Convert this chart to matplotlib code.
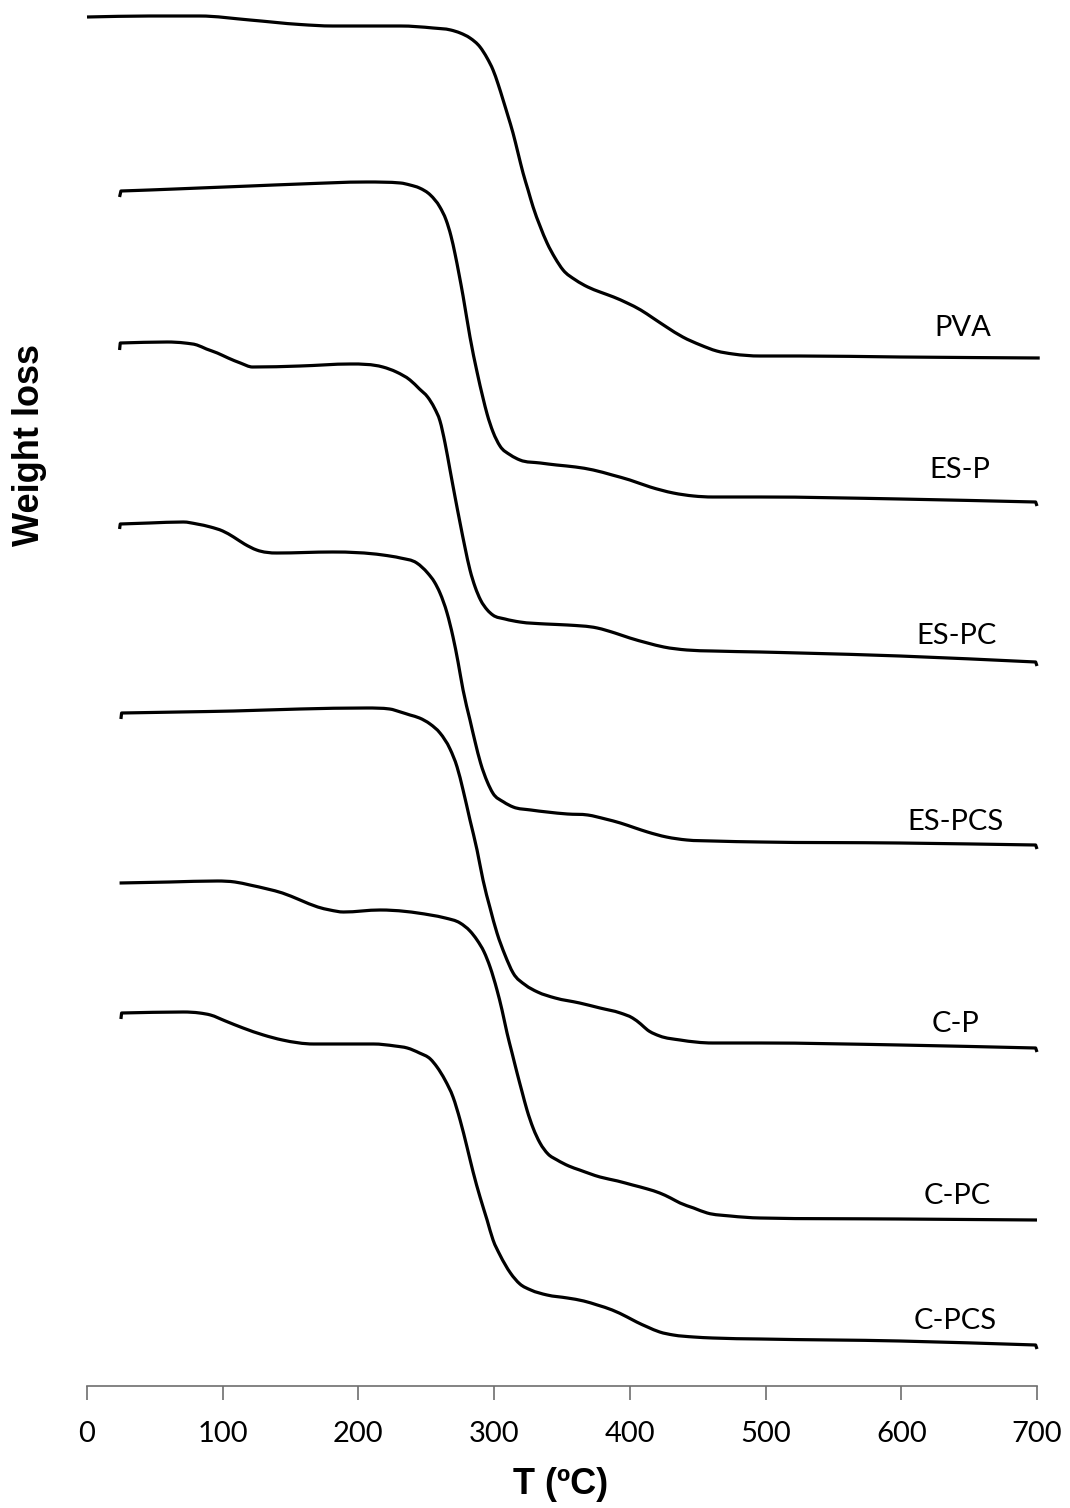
import matplotlib
matplotlib.use("Agg")
from matplotlib import pyplot as plt
from matplotlib.path import Path
from matplotlib.patches import PathPatch

# temperatures (ºC) and stacked weight signal (arbitrary units, offset per sample)
pva_t = [0, 46, 83, 120, 157, 181, 231, 255, 268, 275, 282.2, 289.6, 294.8, 299.2, 302.9, 306.6, 310.2, 313.9, 317.6, 321.3,
         325, 328.7, 333.8, 339, 344.9, 350.8, 360, 369, 378, 388, 398, 408, 417, 427, 439, 452, 464, 476, 496, 525,
         599, 702]
pva_w = [1369, 1370, 1370, 1366, 1361.5, 1360, 1360, 1358, 1356, 1353, 1348, 1339, 1328, 1316, 1302, 1286, 1270, 1253, 1233, 1213,
         1196, 1179, 1160, 1143, 1128, 1116, 1106, 1099, 1094, 1089, 1083, 1076, 1068, 1059, 1049, 1041, 1035, 1032, 1030, 1030,
         1029, 1028]

esp_t = [24, 25, 46, 83, 120, 157, 206, 231, 238, 245, 253, 260, 264.6, 268.2, 271.2, 274.1, 277.1, 282.2, 287.4, 291.8,
         294.8, 299.2, 304.3, 312, 319, 334, 346, 360, 373, 387, 400, 415, 432, 447, 461, 496, 599, 699, 700]
esp_w = [1189, 1195, 1196, 1198, 1200, 1202, 1204, 1203, 1201, 1198, 1191, 1179, 1166, 1150, 1132, 1112, 1090, 1049, 1014, 988,
         972, 954, 940, 931, 926, 923, 921, 919, 916, 911, 906, 899, 893, 890, 889, 889, 887, 884, 880]

espc_t = [24, 24.5, 59, 72, 81, 88, 96, 104, 113, 122, 157, 194, 218, 228, 238, 245, 251, 256, 260.1, 263.8,
          267.5, 271.2, 274.9, 278.6, 282.2, 286, 290, 295, 299, 308, 319, 338, 354, 376, 389, 400, 413, 425, 442, 461,
          496, 525, 599, 699, 700]
espc_w = [1036, 1043, 1044, 1043, 1041, 1037, 1033, 1028, 1023, 1019, 1020, 1022, 1019, 1014, 1006, 997, 989, 978, 965, 943,
          916, 889, 863, 838, 816, 799, 786, 776, 771, 767, 764, 762, 761, 758, 753, 748, 743, 739, 736, 735,
          734, 733, 730, 724, 720]

espcs_t = [24, 24.5, 46, 71, 81, 91, 100, 108, 116, 125, 140, 181, 218, 231, 243, 251, 256, 260.1, 265.3, 269.7,
           273.4, 277.1, 282.2, 286, 290, 295, 299, 307, 314, 327, 339, 354, 369, 382, 393, 404, 413, 427, 442, 461,
           496, 599, 699, 700]
espcs_w = [857, 862, 863, 864, 862, 859, 855, 849, 842, 836, 833, 834, 831, 828, 823, 813, 804, 793, 773, 749,
           724, 696, 666, 644, 623, 604, 593, 584, 579, 576, 574, 572, 571, 567, 563, 558, 554, 549, 546, 545,
           544, 543, 541, 537]

cp_t = [25, 25.5, 68, 108, 157, 206, 223, 231, 238, 245, 252.8, 260.1, 267.5, 272.7, 277.1, 282.2, 287.4, 291.8, 297, 302.1,
        308, 314, 323, 332, 345, 363, 378, 393, 402, 408, 413, 422, 437, 461, 496, 599, 699, 700]
cp_w = [667, 673, 674, 675, 677, 678, 677, 674, 671, 668, 662, 653, 637, 619, 596, 566, 536, 506, 478, 453,
        431, 413, 401, 394, 388, 383, 378, 373, 368, 362, 356, 350, 346, 343, 343, 341, 338, 334]

cpc_t = [24, 61, 96, 109, 120, 133, 144, 157, 170, 179, 189, 216, 253, 264, 274.9, 282.2, 287.4, 292.6, 297, 302.1,
         305.8, 309.5, 313.2, 316.9, 320.6, 324.2, 328.7, 333.8, 339.7, 346.4, 355, 363, 378, 391, 402, 413, 422, 430, 437, 447,
         457, 474, 496, 599, 700]
cpc_w = [503, 504, 505, 504, 501, 497, 493, 486, 479, 476, 474, 476, 471, 468, 463, 455, 446, 434, 419, 396,
         376, 353, 333, 313, 294, 276, 258, 243, 232, 226, 220, 216, 209, 205, 201, 197, 193, 188, 183, 178,
         173, 170, 168, 167, 166]

cpcs_t = [25, 25.5, 71, 83, 91, 102, 115, 130, 144, 167, 211, 227, 236, 245, 253, 257.9, 263.8, 269.7, 274.9, 280,
          284.5, 289.6, 294.8, 299.2, 304.3, 312, 319, 327, 339, 354, 366, 376, 387, 398, 405, 413, 422, 432, 447, 461,
          496, 599, 699, 700]
cpcs_w = [367, 373, 374, 373, 371, 365, 358, 351, 346, 342, 342, 340, 338, 333, 327, 319, 306, 289, 266, 239,
          214, 189, 166, 146, 131, 113, 102, 96, 91, 88, 85, 81, 76, 69, 64, 59, 54, 51, 49, 48,
          47, 45, 41, 37]

names = ['PVA', 'ES-P', 'ES-PC', 'ES-PCS', 'C-P', 'C-PC', 'C-PCS']
series = [(pva_t, pva_w), (esp_t, esp_w), (espc_t, espc_w), (espcs_t, espcs_w),
          (cp_t, cp_w), (cpc_t, cpc_w), (cpcs_t, cpcs_w)]
label_pos = [(645, 1058), (643, 916), (641, 750), (640, 564), (640, 362), (641, 190), (640, 65)]
xticks = [0, 100, 200, 300, 400, 500, 600, 700]


def slopes(x, y):
    # three-point tangents, limited so the smoothed line does not overshoot
    n = len(x)
    h = [x[i + 1] - x[i] for i in range(n - 1)]
    d = [(y[i + 1] - y[i]) / h[i] for i in range(n - 1)]
    if n == 2:
        return [d[0], d[0]]
    m = [0.0] * n
    for i in range(1, n - 1):
        if d[i - 1] * d[i] > 0:
            s = (h[i] * d[i - 1] + h[i - 1] * d[i]) / (h[i - 1] + h[i])
            lim = 3 * min(abs(d[i - 1]), abs(d[i]))
            m[i] = max(-lim, min(lim, s))
    m[0] = d[0]
    m[-1] = d[-1]
    return m


def smoothed(t, w):
    # smoothed line through every point; the short instrument hooks stay straight
    verts = [(t[0], w[0])]
    codes = [Path.MOVETO]
    runs = []
    start = 0
    for i in range(1, len(t)):
        if t[i] - t[i - 1] < 1.5:
            runs.append((start, i - 1))
            runs.append(('hook', i))
            start = i
    runs.append((start, len(t) - 1))
    for run in runs:
        if run[0] == 'hook':
            verts.append((t[run[1]], w[run[1]]))
            codes.append(Path.LINETO)
            continue
        a, b = run
        if b <= a:
            continue
        x = t[a:b + 1]
        y = w[a:b + 1]
        m = slopes(x, y)
        for i in range(len(x) - 1):
            h = x[i + 1] - x[i]
            verts += [(x[i] + h / 3, y[i] + m[i] * h / 3),
                      (x[i + 1] - h / 3, y[i + 1] - m[i + 1] * h / 3),
                      (x[i + 1], y[i + 1])]
            codes += [Path.CURVE4] * 3
    return Path(verts, codes)


dpi = 100
fig = plt.figure(figsize=(1070 / dpi, 1508 / dpi), dpi=dpi)
ax = fig.add_axes([87 / 1070, 122 / 1508, 950 / 1070, 1386 / 1508])

for (t, w), name, (lx, ly) in zip(series, names, label_pos):
    ax.add_patch(PathPatch(smoothed(t, w), fill=False, edgecolor='black', lw=2.3,
                           capstyle='butt', joinstyle='round', clip_on=False))
    ax.text(lx, ly, name, fontsize=21, family='Lato', ha='center', va='center')

ax.set_xlim(0, 700)
ax.set_ylim(0, 1386)
for s in ['top', 'right', 'left']:
    ax.spines[s].set_visible(False)
ax.spines['bottom'].set_color('#6e6e6e')
ax.spines['bottom'].set_linewidth(1.2)
ax.set_yticks([])
ax.set_xticks(xticks)
ax.tick_params(axis='x', direction='out', length=10, width=1.2, color='#6e6e6e', pad=15, labelsize=21)
for lab in ax.get_xticklabels():
    lab.set_family('Lato')

ax.set_xlabel('T (ºC)', fontsize=26, fontweight='bold', family='Liberation Sans')
ax.xaxis.set_label_coords(0.498, -0.071)
ax.xaxis.label.set_va('center')
ax.set_ylabel('Weight loss', fontsize=26, fontweight='bold', family='Liberation Sans')
ax.yaxis.set_label_coords(-0.06, 0.679)
ax.yaxis.label.set_va('center')

fig.savefig('out.png', dpi=dpi)
